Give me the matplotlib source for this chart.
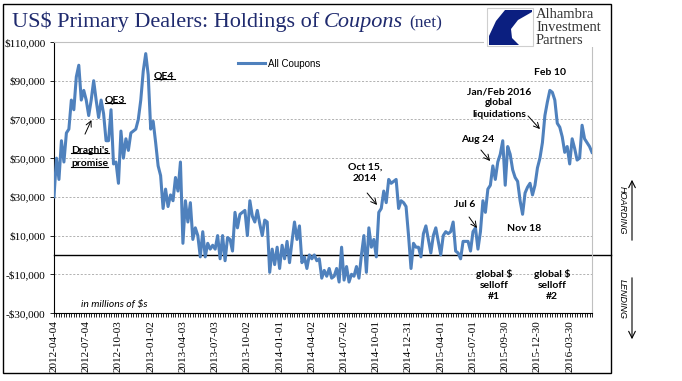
import matplotlib
matplotlib.use('Agg')
import matplotlib.pyplot as plt
import numpy as np
import pandas as pd
from matplotlib.patches import Rectangle, Polygon, FancyArrowPatch
from matplotlib.lines import Line2D

# weekly net holdings of coupons, $ thousands of millions
coupons_k = [
    30, 50, 39, 59, 48, 63, 65, 80, 75, 92, 98, 80, 85, 80, 72, 80, 90, 80, 71, 80,
    73, 59, 59, 75, 47, 48, 37, 64, 50, 60, 54, 63, 64, 65, 70, 80, 95, 104, 93, 65,
    69, 58, 46, 41, 24, 34, 25, 31, 28, 40, 33, 48, 6, 28, 17, 27, 8, 14, 10, -1,
    12, -1, 6, 3, 5, 3, 10, -2, 10, -3, 9, 8, 2, 22, 14, 21, 22, 23, 10, 28,
    20, 17, 23, 16, 10, 18, 17, -9, 3, -5, 4, -7, 5, -2, 7, -4, 7, 17, 8, 15,
    -4, -1, -7, 0, -2, 0, -3, -2, -12, -8, -11, -7, -12, -11, -7, -14, 4, -13, -6, -14,
    -10, -11, -6, -12, 0, 10, -9, 14, 4, 8, -1, 22, 24, 33, 27, 39, 37, 38, 39, 24,
    28, 27, 25, 10, -7, 6, 4, 4, -1, 11, 15, 8, 1, 10, 14, 7, 0, 10, 12, 11,
    12, 17, 2, 1, -2, 7, 7, 7, 2, 12, 14, 3, 12, 28, 22, 34, 36, 46, 39, 48,
    52, 59, 36, 56, 52, 44, 40, 38, 28, 21, 32, 35, 37, 31, 36, 45, 50, 58, 72, 79,
    85, 84, 80, 68, 66, 61, 53, 56, 47, 60, 55, 49, 50, 67, 60, 58, 56, 53,
]
coupons = np.array(coupons_k) * 1000
dates = pd.date_range('2012-04-04', periods=len(coupons), freq='7D')
date_labels = [d.strftime('%Y-%m-%d') for d in dates]
label_every = 13
y_ticks = np.arange(-30000, 110001, 20000)

W, H = 682, 381


def fx(px):
    return px / W


def fy(py):
    return 1 - py / H


serif = 'Liberation Serif'
sans = 'Liberation Sans'
bold_font = 'Lato'

fig = plt.figure(figsize=(W / 100, H / 100), dpi=100)
ax = fig.add_axes([fx(54), fy(313), fx(592) - fx(54), fy(42) - fy(313)])

x = np.arange(len(coupons))
ax.plot(x, coupons, color='#4F81BD', lw=2.2, label='All Coupons', zorder=3)
ax.set_xlim(0, len(coupons) - 1)
ax.set_ylim(-30000, 110000)

ax.set_yticks(y_ticks)
ax.set_yticklabels([('-' if v < 0 else '') + '${:,.0f}'.format(abs(v)) for v in y_ticks],
                   family=serif, fontsize=8)
ax.set_xticks(x[::label_every])
ax.set_xticklabels(date_labels[::label_every], rotation=90, family=serif, fontsize=8)
ax.set_xticks(x, minor=True)
ax.tick_params(axis='x', which='both', length=3, width=0.6, pad=2)
ax.tick_params(axis='y', length=3, width=0.6, pad=3)
ax.yaxis.grid(True, color='#a6a6a6', ls=(0, (2.5, 2)), lw=0.6)
ax.set_axisbelow(True)

for s in ['top', 'right']:
    ax.spines[s].set_color('#c0c0c0')
    ax.spines[s].set_linewidth(0.8)
for s in ['left', 'bottom']:
    ax.spines[s].set_linewidth(0.8)

ax.axhline(0, xmin=0, xmax=(611 - 54) / (592 - 54), color='black', lw=1, clip_on=False, zorder=2)

leg = ax.legend(loc='upper left', bbox_to_anchor=(fx(231), fy(52)), bbox_transform=fig.transFigure,
                frameon=False, handlelength=2.8, handletextpad=0.3, borderpad=0.2,
                prop={'family': sans, 'size': 7})

# annotations
ann = dict(family=bold_font, weight='bold', fontsize=7.5, ha='center', va='center', color='black')
arrow = dict(arrowstyle='->', color='black', lw=0.7, shrinkA=0, shrinkB=0)

underlined = []
underlined.append(ax.text(24.6, 80000, 'QE3', **ann))
underlined.append(ax.text(44.5, 92500, 'QE4', **ann))
underlined.append(ax.text(6.9, 54200, "Draghi's", **{**ann, 'ha': 'left'}))
underlined.append(ax.text(6.9, 47000, 'promise', **{**ann, 'ha': 'left'}))
ax.annotate('', xy=(15.1, 69700), xytext=(12.5, 62400), arrowprops=arrow)

ax.text(125.5, 42600, 'Oct 15,\n2014', linespacing=1.35, **ann)
ax.annotate('', xy=(130.3, 25800), xytext=(126.3, 32000), arrowprops=arrow)
ax.text(165.8, 25800, 'Jul 6', **ann)
ax.annotate('', xy=(170.6, 13900), xytext=(167.4, 19600), arrowprops=arrow)
ax.text(171, 59400, 'Aug 24', **ann)
ax.annotate('', xy=(175.9, 48500), xytext=(172.2, 54200), arrowprops=arrow)
ax.text(179.5, 78500, 'Jan/Feb 2016\nglobal\nliquidations', linespacing=1.35, **ann)
ax.annotate('', xy=(196, 65000), xytext=(191.2, 71800), arrowprops=arrow)
ax.text(200, 94000, 'Feb 10', **ann)
ax.text(189.6, 13400, 'Nov 18', **ann)
ax.text(177.5, -15500, 'global $\nselloff\n#1', linespacing=1.3, **ann)
ax.text(200.9, -15500, 'global $\nselloff\n#2', linespacing=1.3, **ann)
ax.text(24.2, -25800, 'in millions of $s', family=bold_font, style='italic', fontsize=7.5,
        ha='center', va='center')

# title
renderer = fig.canvas.get_renderer()
title_kw = dict(family=serif, color='#1f2a6e', va='baseline')
t1 = fig.text(fx(12), fy(27), 'US$ Primary Dealers: Holdings of', fontsize=16, **title_kw)
bb = t1.get_window_extent(renderer)
t2 = fig.text((bb.x1 + 5) / W, fy(27), 'Coupons', fontsize=16, style='italic', **title_kw)
bb = t2.get_window_extent(renderer)
fig.text((bb.x1 + 6) / W, fy(27), '(net)', fontsize=12.5, **title_kw)

# logo block
fig.add_artist(Rectangle((fx(484), fy(47)), fx(610) - fx(484), fy(5) - fy(47),
                         transform=fig.transFigure, fc='white', ec='none', zorder=5))
fig.add_artist(Rectangle((fx(487), fy(46)), fx(533) - fx(487), fy(8) - fy(46),
                         transform=fig.transFigure, fc='white', ec='#cfcfcf', lw=0.8, zorder=6))
swoosh = [(505, 10), (532, 10), (532, 12), (518, 20), (511, 29), (512, 38), (519, 45),
          (489, 45), (489, 36), (496, 21)]
fig.add_artist(Polygon([(fx(a), fy(b)) for a, b in swoosh], closed=True, transform=fig.transFigure,
                       fc='#0b1f80', ec='none', zorder=7))
for txt, py in [('Alhambra', 18), ('Investment', 31), ('Partners', 44)]:
    fig.text(fx(536), fy(py), txt, family=serif, fontsize=10.5, color='#333333', va='baseline', zorder=7)

# outer frame
fig.add_artist(Rectangle((fx(3), fy(373)), fx(611) - fx(3), fy(4) - fy(373),
                         transform=fig.transFigure, fill=False, ec='black', lw=1, zorder=8))

# hoarding / lending
side = dict(family=sans, fontsize=6.5, style='italic', rotation=-90, ha='center', va='center')
fig.text(fx(622), fy(210), 'HOARDING', **side)
fig.text(fx(622), fy(299), 'LENDING', **side)
fig.add_artist(FancyArrowPatch((fx(632), fy(243)), (fx(632), fy(177)), transform=fig.transFigure,
                               arrowstyle='->', mutation_scale=12, lw=0.8, color='black'))
fig.add_artist(FancyArrowPatch((fx(632), fy(275)), (fx(632), fy(342)), transform=fig.transFigure,
                               arrowstyle='->', mutation_scale=12, lw=0.8, color='black'))

# underlines
for t in underlined:
    bb = t.get_window_extent(renderer)
    yy = (bb.y0 + 1.5) / H
    fig.add_artist(Line2D([bb.x0 / W, bb.x1 / W], [yy, yy], color='black', lw=0.8))

fig.savefig('out.png', dpi=100)
